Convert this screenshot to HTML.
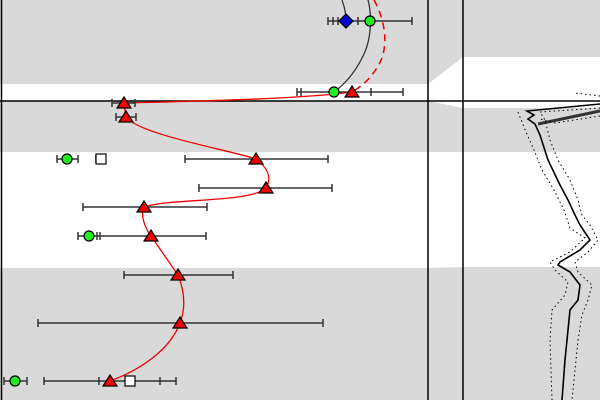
<!DOCTYPE html>
<html><head><meta charset="utf-8"><style>html,body{margin:0;padding:0;background:#fff}svg{display:block}</style></head><body>
<svg width="600" height="400" viewBox="0 0 600 400" xmlns="http://www.w3.org/2000/svg">
<rect width="600" height="400" fill="#fff"/>
<polygon points="0,0 600,0 600,57 463,57 428,84 0,84" fill="#d9d9d9"/>
<polygon points="0,101 428,101 463,108 600,108 600,152 0,152" fill="#d9d9d9"/>
<polygon points="0,268 428,268 463,267 600,267 600,400 0,400" fill="#d9d9d9"/>
<g stroke="#000" stroke-width="1.5">
<line x1="1.5" y1="0" x2="1.5" y2="400"/>
<line x1="428" y1="0" x2="428" y2="400"/>
<line x1="463" y1="0" x2="463" y2="400"/>
<line x1="0" y1="101" x2="600" y2="101"/>
</g>
<path d="M342,0 C344,6 346,12 346,21" fill="none" stroke="#333" stroke-width="1.3"/>
<path d="M368,0 C372,15 372,40 362,58 C355,72 345,84 334,92" fill="none" stroke="#333" stroke-width="1.3"/>
<path d="M374,0 C384,18 388,40 382,58 C376,72 366,84 352,92" fill="none" stroke="#e00" stroke-width="1.5" stroke-dasharray="7,5"/>
<path d="M124,103 C200,101 300,99 352,92" fill="none" stroke="#e00" stroke-width="1.3"/>
<path d="M124,104 L126,117 C140,135 230,150 256,159 C268,168 272,178 266,188 C250,203 170,198 144,207 C140,215 145,228 151,236 L178,275 C186,295 185,310 180,323 C170,350 140,370 110,381" fill="none" stroke="#e00" stroke-width="1.3"/>
<g stroke="#333" stroke-width="1.5" fill="none">
<path d="M328,21H412 M328,17v8 M333,17v8 M338,17v8 M358,17v8 M412,17v8"/>
<path d="M297,92H403 M297,88v8 M301,88v8 M371,88v8 M403,88v8"/>
<path d="M112,103H135 M112,99v8 M135,99v8"/>
<path d="M116,117H136 M116,113v8 M136,113v8"/>
<path d="M185,159H328 M185,155v8 M328,155v8"/>
<path d="M57,159H78 M57,155v8 M78,155v8"/>
<path d="M96,159H105 M96,155v8 M105,155v8"/>
<path d="M199,188H332 M199,184v8 M332,184v8"/>
<path d="M83,207H207 M83,203v8 M207,203v8"/>
<path d="M78,236H206 M78,232v8 M97,232v8 M100,232v8 M206,232v8"/>
<path d="M124,275H233 M124,271v8 M233,271v8"/>
<path d="M38,323H323 M38,319v8 M323,319v8"/>
<path d="M44,381H176 M44,377v8 M99,377v8 M160,377v8 M176,377v8"/>
<path d="M4,381H27 M4,377v8 M27,377v8"/>
</g>
<g stroke="#000" stroke-width="1.2">
<polygon points="346,14 353,21 346,28 339,21" fill="#00c"/>
<circle cx="370" cy="21" r="5" fill="#2e2"/>
<circle cx="334" cy="92" r="5" fill="#2e2"/>
<circle cx="67" cy="159" r="5" fill="#2e2"/>
<circle cx="89" cy="236" r="5" fill="#2e2"/>
<circle cx="15" cy="381" r="5" fill="#2e2"/>
<rect x="96" y="154" width="10" height="10" fill="#fff"/>
<rect x="125" y="376" width="10" height="10" fill="#fff"/>
<g fill="#e00">
<polygon points="352,86 359,97 345,97"/>
<polygon points="124,97 131,108 117,108"/>
<polygon points="126,111 133,122 119,122"/>
<polygon points="256,153 263,164 249,164"/>
<polygon points="266,182 273,193 259,193"/>
<polygon points="144,201 151,212 137,212"/>
<polygon points="151,230 158,241 144,241"/>
<polygon points="178,269 185,280 171,280"/>
<polygon points="180,317 187,328 173,328"/>
<polygon points="110,375 117,386 103,386"/>
</g>
</g>
<g fill="none">
<path d="M600,104 L527,111 L534,115 L528,119 L535,124 L540,135 L548,160 L560,185 L568,200 L575,215 L580,225 L590,240 L580,250 L560,262 L558,265 L570,272 L580,285 L578,300 L570,310 L568,330 L565,360 L562,400" stroke="#000" stroke-width="1.6"/>
<path d="M600,111 L538,124" stroke="#333" stroke-width="3"/>
<path d="M600,96 L575,93 M600,116 L555,123 L540,119 M518,112 L522,122 L526,132 L534,150 L542,170 L554,190 L564,210 L570,228 L585,238 L570,252 L550,262 L555,270 L568,282 L565,295 L552,310 L550,340 L552,400" stroke="#000" stroke-width="1" stroke-dasharray="1.5,3"/>
<path d="M600,108 L540,112 L545,120 L550,140 L558,160 L570,180 L578,200 L582,215 L590,225 L598,240 L588,252 L575,262 L578,272 L592,285 L588,300 L582,315 L578,340 L572,400" stroke="#000" stroke-width="1" stroke-dasharray="1.5,3"/>
</g>
</svg>
</body></html>
